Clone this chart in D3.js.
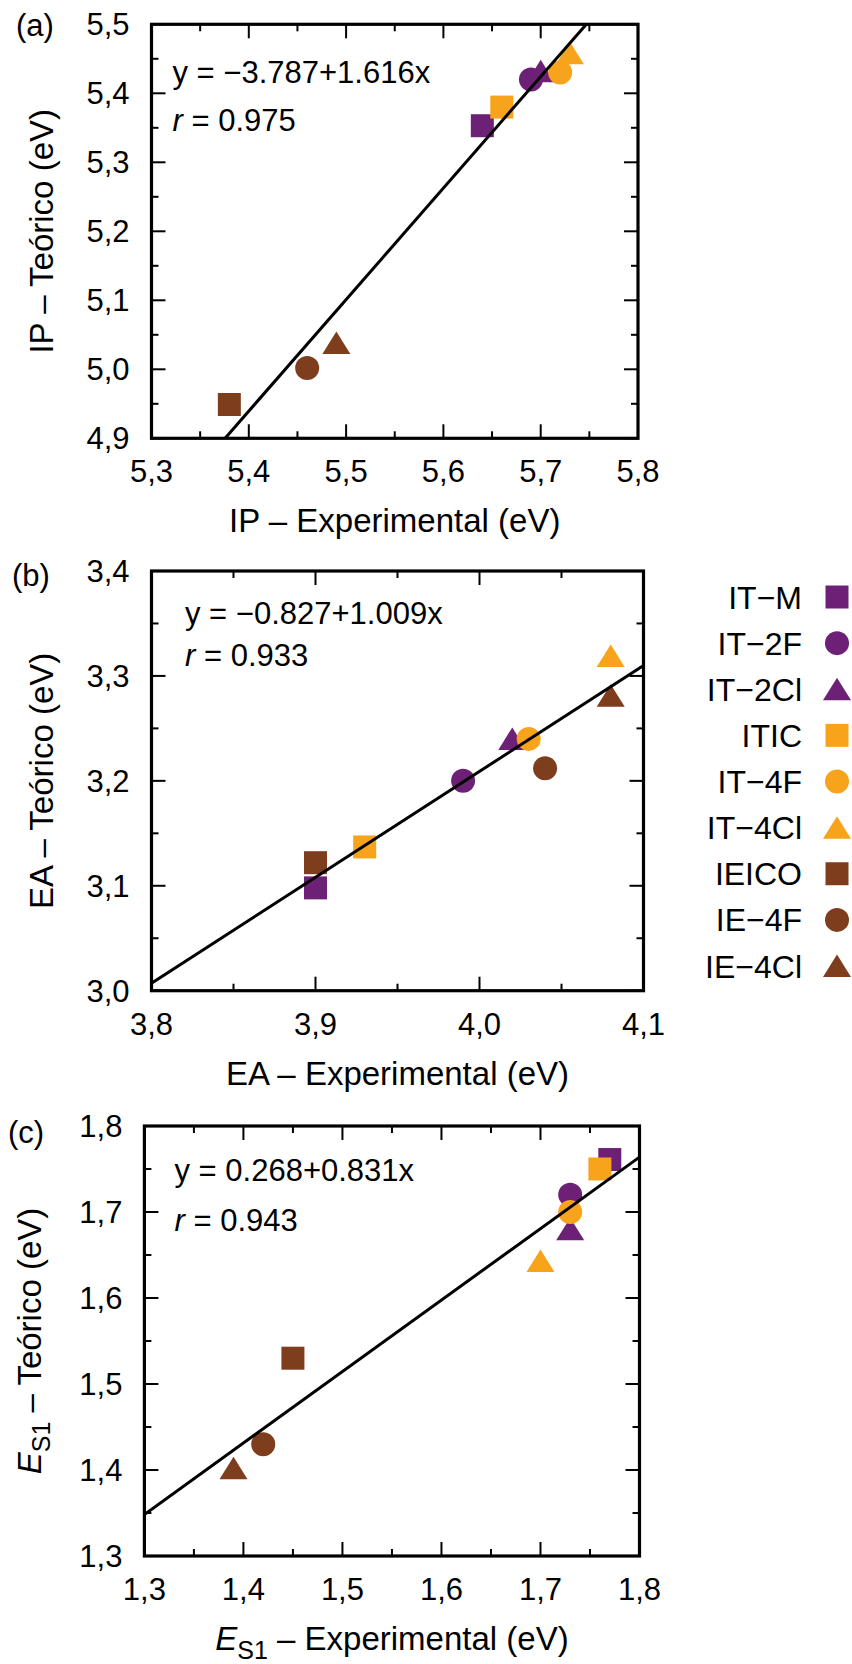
<!DOCTYPE html>
<html>
<head>
<meta charset="utf-8">
<script src="https://cdn.jsdelivr.net/npm/d3@7"></script>
<style>
  body { margin: 0; background: #fff; }
  svg text { font-family: "Liberation Sans", Arial, Helvetica, sans-serif; fill: #000; }
</style>
</head>
<body>
<svg id="chart" width="852" height="1664"></svg>
<script>
// ---------------- DATA ----------------
const compounds = ["IT\u2212M", "IT\u22122F", "IT\u22122Cl", "ITIC", "IT\u22124F", "IT\u22124Cl", "IEICO", "IE\u22124F", "IE\u22124Cl"];
const markerColors = ["#6d2176", "#6d2176", "#6d2176", "#f8a31c", "#f8a31c", "#f8a31c", "#7e3d1d", "#7e3d1d", "#7e3d1d"];
const markerShapes = ["square", "circle", "triangle", "square", "circle", "triangle", "square", "circle", "triangle"];

// (a) IP
const ipExp = [5.64, 5.69, 5.70, 5.66, 5.72, 5.73, 5.38, 5.46, 5.49];
const ipTeo = [5.353, 5.420, 5.432, 5.380, 5.430, 5.458, 4.949, 5.002, 5.038];
// (b) EA
const eaExp = [3.90, 3.99, 4.02, 3.93, 4.03, 4.08, 3.90, 4.04, 4.08];
const eaTeo = [3.098, 3.200, 3.240, 3.137, 3.240, 3.319, 3.122, 3.212, 3.281];
// (c) E_S1
const s1Exp = [1.77, 1.73, 1.73, 1.76, 1.73, 1.70, 1.45, 1.42, 1.39];
const s1Teo = [1.761, 1.720, 1.680, 1.750, 1.700, 1.643, 1.530, 1.430, 1.402];

// fits: intercept, slope, r
const fitIntercepts = [-3.787, -0.827, 0.268];
const fitSlopes = [1.616, 1.009, 0.831];
const fitR = ["0.975", "0.933", "0.943"];

// axis ticks
const ipXTicks = [5.3, 5.4, 5.5, 5.6, 5.7, 5.8];
const ipYTicks = [4.9, 5.0, 5.1, 5.2, 5.3, 5.4, 5.5];
const eaXTicks = [3.8, 3.9, 4.0, 4.1];
const eaYTicks = [3.0, 3.1, 3.2, 3.3, 3.4];
const s1XTicks = [1.3, 1.4, 1.5, 1.6, 1.7, 1.8];
const s1YTicks = [1.3, 1.4, 1.5, 1.6, 1.7, 1.8];
const minorStep = 0.05;

const panelLabels = ["(a)", "(b)", "(c)"];
const xTitles = ["IP \u2013 Experimental (eV)", "EA \u2013 Experimental (eV)", "S1"];
const yTitles = ["IP \u2013 Te\u00f3rico (eV)", "EA \u2013 Te\u00f3rico (eV)", "S1"];

// ---------------- LAYOUT ----------------
const panels = [
  { xs: ipExp, ys: ipTeo, xt: ipXTicks, yt: ipYTicks, left: 151.5, right: 638, top: 24.3, bottom: 438.3,
    annX: 172.5, annY1: 83, annY2: 130.5, lab: [16, 36] },
  { xs: eaExp, ys: eaTeo, xt: eaXTicks, yt: eaYTicks, left: 151.5, right: 643.5, top: 571, bottom: 990.7,
    annX: 185, annY1: 623.5, annY2: 665.5, lab: [12, 586] },
  { xs: s1Exp, ys: s1Teo, xt: s1XTicks, yt: s1YTicks, left: 144.4, right: 639.5, top: 1126, bottom: 1556,
    annX: 174.5, annY1: 1181, annY2: 1231, lab: [8, 1143] }
];

const svg = d3.select("#chart");
const fmt = v => d3.format(".1f")(v).replace(".", ",");

function symbolPath(shape) {
  if (shape === "square") return "M-11.5,-11.5H11.5V11.5H-11.5Z";
  if (shape === "circle") return "M-12,0A12,12 0 1,0 12,0A12,12 0 1,0 -12,0Z";
  return "M0,-11.5L14,11L-14,11Z";
}

panels.forEach((p, pi) => {
  const g = svg.append("g");
  const x = d3.scaleLinear().domain(d3.extent(p.xt)).range([p.left, p.right]);
  const y = d3.scaleLinear().domain(d3.extent(p.yt)).range([p.bottom, p.top]);

  const clipId = "clip" + pi;
  svg.append("clipPath").attr("id", clipId).append("rect")
    .attr("x", p.left).attr("y", p.top).attr("width", p.right - p.left).attr("height", p.bottom - p.top);

  // ticks (major + minor, mirrored)
  const xMinor = d3.range(x.domain()[0], x.domain()[1] + 1e-9, minorStep);
  const yMinor = d3.range(y.domain()[0], y.domain()[1] + 1e-9, minorStep);
  const tg = g.append("g").attr("stroke", "#000").attr("stroke-width", 2);
  const isMajor = (v, ticks) => ticks.some(t => Math.abs(t - v) < 1e-6);
  xMinor.forEach(v => {
    const L = isMajor(v, p.xt) ? 14 : 7;
    tg.append("line").attr("x1", x(v)).attr("x2", x(v)).attr("y1", p.bottom).attr("y2", p.bottom - L);
    tg.append("line").attr("x1", x(v)).attr("x2", x(v)).attr("y1", p.top).attr("y2", p.top + L);
  });
  yMinor.forEach(v => {
    const L = isMajor(v, p.yt) ? 14 : 7;
    tg.append("line").attr("y1", y(v)).attr("y2", y(v)).attr("x1", p.left).attr("x2", p.left + L);
    tg.append("line").attr("y1", y(v)).attr("y2", y(v)).attr("x1", p.right).attr("x2", p.right - L);
  });

  // tick labels
  p.xt.forEach(v => {
    g.append("text").attr("x", x(v)).attr("y", p.bottom + 44).attr("text-anchor", "middle")
      .attr("font-size", 31).text(fmt(v));
  });
  p.yt.forEach(v => {
    g.append("text").attr("x", p.left - 22).attr("y", y(v) + 11).attr("text-anchor", "end")
      .attr("font-size", 31).text(fmt(v));
  });

  // points
  const pts = g.append("g");
  p.xs.forEach((xv, i) => {
    pts.append("path").attr("d", symbolPath(markerShapes[i]))
      .attr("transform", `translate(${x(xv)},${y(p.ys[i])})`)
      .attr("fill", markerColors[i]);
  });

  // fit line
  const a = fitIntercepts[pi], b = fitSlopes[pi];
  const xd = x.domain();
  g.append("line").attr("clip-path", `url(#${clipId})`)
    .attr("x1", x(xd[0])).attr("y1", y(a + b * xd[0]))
    .attr("x2", x(xd[1])).attr("y2", y(a + b * xd[1]))
    .attr("stroke", "#000").attr("stroke-width", 3);

  // frame
  g.append("rect").attr("x", p.left).attr("y", p.top).attr("width", p.right - p.left).attr("height", p.bottom - p.top)
    .attr("fill", "none").attr("stroke", "#000").attr("stroke-width", 3.2);

  // annotations
  const sign = a < 0 ? "\u2212" : "";
  g.append("text").attr("x", p.annX).attr("y", p.annY1).attr("font-size", 31)
    .text(`y = ${sign}${Math.abs(a).toFixed(3)}+${b.toFixed(3)}x`);
  const rt = g.append("text").attr("x", p.annX).attr("y", p.annY2).attr("font-size", 31);
  rt.append("tspan").attr("font-style", "italic").text("r");
  rt.append("tspan").text(" = " + fitR[pi]);

  // panel label
  g.append("text").attr("x", p.lab[0]).attr("y", p.lab[1]).attr("font-size", 31).text(panelLabels[pi]);

  // axis titles
  const cx = (p.left + p.right) / 2, cy = (p.top + p.bottom) / 2;
  const xt = g.append("text").attr("x", cx).attr("y", p.bottom + 94).attr("text-anchor", "middle").attr("font-size", 33);
  const yt = g.append("text").attr("transform", `translate(${pi === 2 ? 41 : 52.5},${cy}) rotate(-90)`)
    .attr("text-anchor", "middle").attr("font-size", 33);
  if (pi < 2) {
    xt.text(xTitles[pi]);
    yt.text(yTitles[pi]);
  } else {
    [xt, yt].forEach((t, k) => {
      t.append("tspan").attr("font-style", "italic").text("E");
      t.append("tspan").attr("font-size", 25).attr("dy", 9).text(k === 0 ? xTitles[2] : yTitles[2]);
      t.append("tspan").attr("dy", -9).text(k === 0 ? " \u2013 Experimental (eV)" : " \u2013 Te\u00f3rico (eV)");
    });
  }
});

// legend
const legend = svg.append("g");
const legendY = d3.scaleLinear().domain([0, compounds.length - 1]).range([597, 966]);
compounds.forEach((name, i) => {
  legend.append("text").attr("x", 802).attr("y", legendY(i) + 11.5).attr("text-anchor", "end")
    .attr("font-size", 32).text(name);
  legend.append("path").attr("d", symbolPath(markerShapes[i]))
    .attr("transform", `translate(837,${legendY(i)})`).attr("fill", markerColors[i]);
});
</script>
</body>
</html>
